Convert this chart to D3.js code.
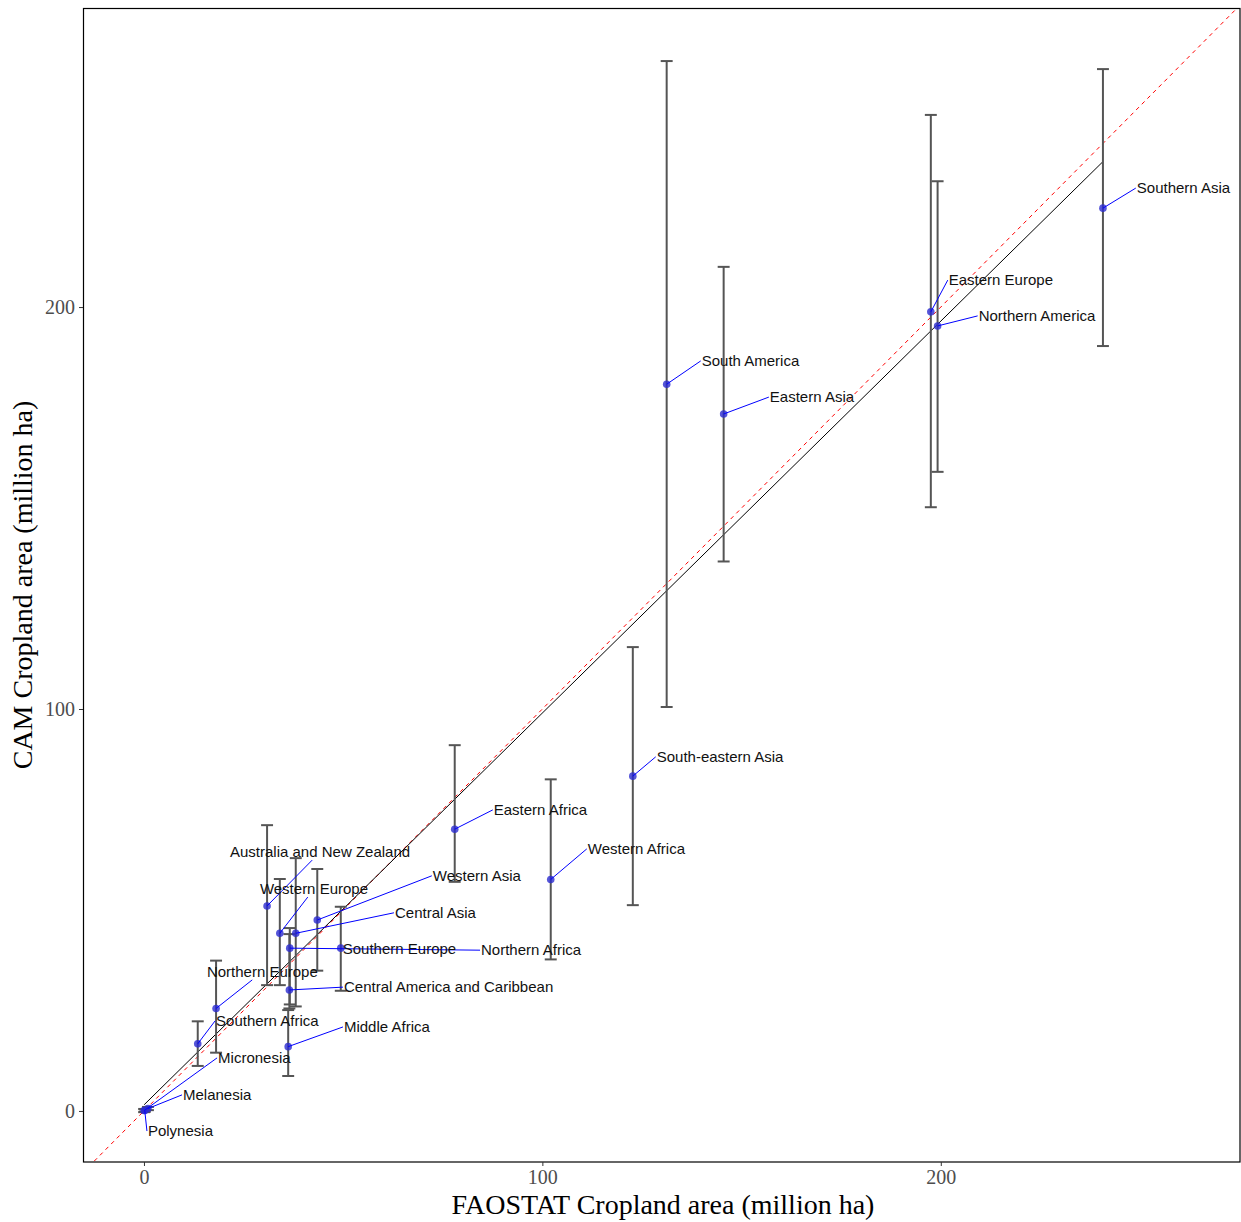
<!DOCTYPE html>
<html><head><meta charset="utf-8">
<script src="https://cdn.jsdelivr.net/npm/d3@7"></script>
<style>body{margin:0;background:#fff}</style>
</head><body>
<svg id="chart" width="1241" height="1222"></svg>
<script>
// ---- data (million ha) ----
const regions = ["Southern Asia","Eastern Europe","Northern America","South America","Eastern Asia",
  "South-eastern Asia","Eastern Africa","Western Africa","Western Asia","Central Asia",
  "Australia and New Zealand","Western Europe","Southern Europe","Northern Africa",
  "Central America and Caribbean","Middle Africa","Northern Europe","Southern Africa",
  "Micronesia","Melanesia","Polynesia"];
const faostat = [240.7,197.5,199.2,131.2,145.5,122.7,78.0,102.1,43.5,38.1,30.9,34.1,49.4,36.6,36.5,36.2,18.1,13.5,0.05,1.0,0.2];
const cam     = [224.6,198.8,195.3,180.8,173.4,83.3,70.1,57.6,47.5,44.2,51.0,44.2,40.5,40.5,30.1,16.0,25.5,16.7,0.1,0.6,0.1];
const camLow  = [190.3,150.2,159.0,100.5,136.7,51.2,57.0,37.7,34.9,26.0,31.3,31.3,29.9,26.5,25.5,8.7,14.5,11.2,-0.3,0.2,-0.2];
const camHigh = [259.2,247.8,231.3,261.2,210.0,115.4,91.0,82.5,60.2,62.9,71.1,57.7,50.8,45.5,44.0,25.1,37.4,22.3,0.5,1.0,0.4];
// repelled label anchors (data units: left edge of text, vertical centre)
const labelX  = [249.2,202.0,209.5,140.0,157.1,128.7,87.8,111.4,72.5,63.0,21.6,29.1,49.9,84.6,50.2,50.2,15.8,18.1,18.6,9.8,1.0];
const labelY  = [229.6,206.7,197.8,186.6,177.6,88.1,74.9,65.2,58.5,49.3,64.4,55.2,40.3,40.0,30.8,20.9,34.6,22.4,13.2,4.0,-5.0];
const fitIntercept = 1.5, fitSlope = 0.975;   // linear fit CAM ~ FAOSTAT
const xTicks = [0,100,200];
const yTicks = [0,100,200];
const xDomain = [-15.3, 275.1];
const yDomain = [-12.7, 274.4];

// ---- layout ----
const L = 83, R = 1240, T = 8, B = 1162;
const svg = d3.select("#chart");
const x = d3.scaleLinear().domain(xDomain).range([L, R]);
const y = d3.scaleLinear().domain(yDomain).range([B, T]);

svg.append("defs").append("clipPath").attr("id","clip")
  .append("rect").attr("x",L).attr("y",T).attr("width",R-L).attr("height",B-T);

const data = regions.map((r,i)=>({name:r, x:faostat[i], y:cam[i], lo:camLow[i], hi:camHigh[i], lx:labelX[i], ly:labelY[i]}));

const plot = svg.append("g").attr("clip-path","url(#clip)");

// 1:1 line
plot.append("line")
  .attr("x1", x(xDomain[0])).attr("y1", y(xDomain[0]))
  .attr("x2", x(xDomain[1])).attr("y2", y(xDomain[1]))
  .attr("stroke","#ff0000").attr("stroke-width",1).attr("stroke-dasharray","4,4");

// fitted line
const xmin = d3.min(faostat), xmax = d3.max(faostat);
plot.append("line")
  .attr("x1", x(xmin)).attr("y1", y(fitIntercept + fitSlope*xmin))
  .attr("x2", x(xmax)).attr("y2", y(fitIntercept + fitSlope*xmax))
  .attr("stroke","#000").attr("stroke-width",1);

// error bars
const capHalf = 1.5; // data units
const eb = plot.append("g").attr("stroke","#555").attr("stroke-width",2).attr("fill","none");
data.forEach(d=>{
  eb.append("line").attr("x1",x(d.x)).attr("x2",x(d.x)).attr("y1",y(d.lo)).attr("y2",y(d.hi));
  eb.append("line").attr("x1",x(d.x-capHalf)).attr("x2",x(d.x+capHalf)).attr("y1",y(d.lo)).attr("y2",y(d.lo));
  eb.append("line").attr("x1",x(d.x-capHalf)).attr("x2",x(d.x+capHalf)).attr("y1",y(d.hi)).attr("y2",y(d.hi));
});

// points
plot.append("g").selectAll("circle").data(data).join("circle")
  .attr("cx",d=>x(d.x)).attr("cy",d=>y(d.y)).attr("r",3.8)
  .attr("fill","#2b2bd0").attr("fill-opacity",0.8);

// labels
const segG = svg.append("g");
const labG = svg.append("g").attr("font-family","'Liberation Sans', Arial, sans-serif").attr("font-size",15).attr("fill","#111");
data.forEach(d=>{
  const t = labG.append("text").attr("x",x(d.lx)).attr("y",y(d.ly)).attr("dy","0.35em").text(d.name);
  const bb = t.node().getBBox();
  const left = bb.x, right = bb.x+bb.width, top = y(d.ly)-8, bottom = y(d.ly)+8;
  const px = x(d.x), py = y(d.y);
  const cx = (left+right)/2, cy = y(d.ly);
  let ex, ey;
  if (px < left) { ex = left - 1; ey = cy; }
  else if (px > right) { ex = right + 1; ey = cy; }
  else if (py > bottom) { const tt = (bottom - py)/(cy - py); ex = px + tt*(cx-px); ey = bottom; }
  else { const tt = (top - py)/(cy - py); ex = px + tt*(cx-px); ey = top; }
  if (Math.hypot(ex-px, ey-py) > 7) {
    segG.append("line").attr("x1",px).attr("y1",py).attr("x2",ex).attr("y2",ey)
      .attr("stroke","#0000ff").attr("stroke-width",1);
  }
});

// panel border
svg.append("rect").attr("x",L+0.5).attr("y",T+0.5).attr("width",R-L-0.5).attr("height",B-T-0.5)
  .attr("fill","none").attr("stroke","#000").attr("stroke-width",1.2);

// axes
const ax = svg.append("g").attr("transform",`translate(0,${B})`)
  .call(d3.axisBottom(x).tickValues(xTicks).tickSize(4).tickPadding(4));
const ay = svg.append("g").attr("transform",`translate(${L},0)`)
  .call(d3.axisLeft(y).tickValues(yTicks).tickSize(4).tickPadding(4));
[ax, ay].forEach(a=>{
  a.select(".domain").remove();
  a.selectAll(".tick line").attr("stroke","#333");
  a.selectAll(".tick text").attr("font-family","'Liberation Serif','Times New Roman',serif")
    .attr("font-size",20).attr("fill","#4d4d4d");
});

// titles
svg.append("text").attr("x",663).attr("y",1214).attr("text-anchor","middle")
  .attr("font-family","'Liberation Serif','Times New Roman',serif").attr("font-size",28).attr("fill","#000")
  .text("FAOSTAT Cropland area (million ha)");
svg.append("text").attr("transform","translate(32,585) rotate(-90)").attr("text-anchor","middle")
  .attr("font-family","'Liberation Serif','Times New Roman',serif").attr("font-size",28).attr("fill","#000")
  .text("CAM Cropland area (million ha)");
</script>
</body></html>
